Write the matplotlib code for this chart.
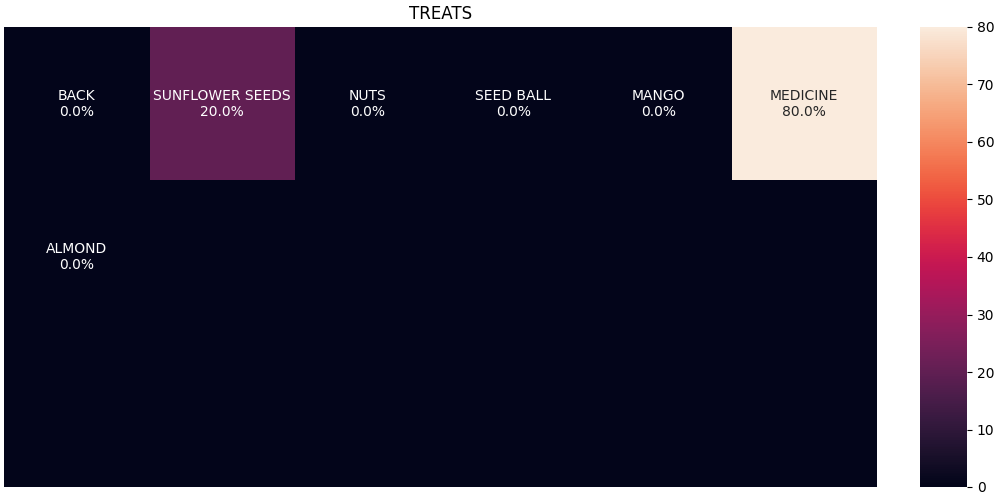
import matplotlib
matplotlib.use('Agg')
import matplotlib.pyplot as plt
import numpy as np
import seaborn as sns

# treat names and percentages, laid out in a 3 x 6 grid
treat_names = ['BACK', 'SUNFLOWER SEEDS', 'NUTS', 'SEED BALL', 'MANGO', 'MEDICINE', 'ALMOND']
treat_pct = [0.0, 20.0, 0.0, 0.0, 0.0, 80.0, 0.0]
n_rows, n_cols = 3, 6

values = np.zeros(n_rows * n_cols)
labels = [''] * (n_rows * n_cols)
for i, (name, pct) in enumerate(zip(treat_names, treat_pct)):
    values[i] = pct
    labels[i] = name + '\n' + str(pct) + '%'
values = values.reshape(n_rows, n_cols)
labels = np.array(labels).reshape(n_rows, n_cols)

fig = plt.figure(figsize=(10, 5), dpi=100)
ax = fig.add_axes([0.004, 0.026, 0.873, 0.92])
cax = fig.add_axes([0.92, 0.026, 0.047, 0.92])

sns.heatmap(values, annot=labels, fmt='', ax=ax, cbar_ax=cax,
            xticklabels=False, yticklabels=False, vmin=0, vmax=80)
ax.set_title('TREATS')
cax.tick_params(labelsize=10)

plt.savefig('out.png')
